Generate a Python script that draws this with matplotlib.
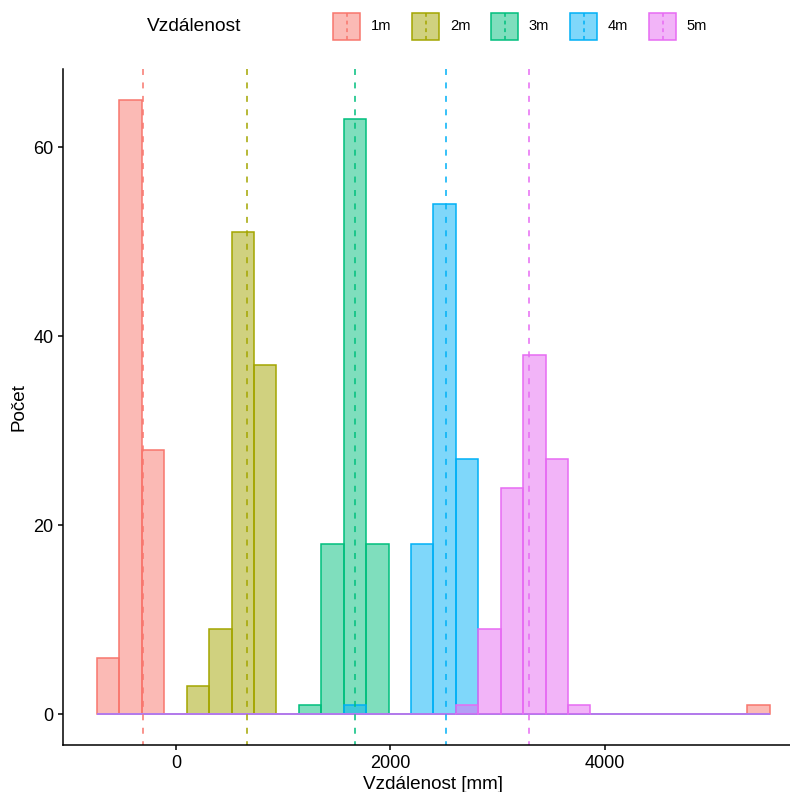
import numpy as np
import matplotlib
matplotlib.use("Agg")
import matplotlib.pyplot as plt
from matplotlib.patches import Rectangle
from matplotlib.lines import Line2D
from matplotlib.colors import to_rgba

plt.rcParams['font.family'] = ['Liberation Sans', 'DejaVu Sans']

# histogram bins (30 bins)
bin_start = -737
bin_width = 209.2
n_bins = 30

groups = ['1m', '2m', '3m', '4m', '5m']
colors = ['#F8766D', '#A3A500', '#00BF7D', '#00B0F6', '#E76BF3']

counts_1m = [6, 65, 28, 0, 0, 0, 0, 0, 0, 0, 0, 0, 0, 0, 0, 0, 0, 0, 0, 0, 0, 0, 0, 0, 0, 0, 0, 0, 0, 1]
counts_2m = [0, 0, 0, 0, 3, 9, 51, 37, 0, 0, 0, 0, 0, 0, 0, 0, 0, 0, 0, 0, 0, 0, 0, 0, 0, 0, 0, 0, 0, 0]
counts_3m = [0, 0, 0, 0, 0, 0, 0, 0, 0, 1, 18, 63, 18, 0, 0, 0, 0, 0, 0, 0, 0, 0, 0, 0, 0, 0, 0, 0, 0, 0]
counts_4m = [0, 0, 0, 0, 0, 0, 0, 0, 0, 0, 0, 1, 0, 0, 18, 54, 27, 0, 0, 0, 0, 0, 0, 0, 0, 0, 0, 0, 0, 0]
counts_5m = [0, 0, 0, 0, 0, 0, 0, 0, 0, 0, 0, 0, 0, 0, 0, 0, 1, 9, 24, 38, 27, 1, 0, 0, 0, 0, 0, 0, 0, 0]
all_counts = [counts_1m, counts_2m, counts_3m, counts_4m, counts_5m]

# group means (dashed lines)
means = [-303, 660, 1667, 2516, 3296]

W, H = 790, 792
fig = plt.figure(figsize=(W / 100, H / 100), dpi=100)

def fx(px):
    return px / W

def fy(py):
    return 1 - py / H

# panel in pixels
left_px, right_px, top_px, bottom_px = 63.3, 803.5, 69.3, 745.2
ax = fig.add_axes([fx(left_px), fy(bottom_px), fx(right_px - left_px), (bottom_px - top_px) / H])

edges = bin_start + bin_width * np.arange(n_bins + 1)
for cnt, col in zip(all_counts, colors):
    ax.bar(edges[:-1], cnt, width=bin_width, align='edge',
           color=to_rgba(col, 0.5), edgecolor=col, linewidth=1.1)

dash = (0, (3.9, 4.9))
for m, col in zip(means, colors):
    ax.plot([m, m], [1, 0], transform=ax.get_xaxis_transform(),
            color=col, linewidth=1.1, linestyle=dash)

rng = edges[-1] - edges[0]
ax.set_xlim(edges[0] - 0.05 * rng, edges[-1] + 0.05 * rng)
ax.set_ylim(-0.05 * 65, 65 * 1.05)
ax.set_xticks([0, 2000, 4000])
ax.set_yticks([0, 20, 40, 60])

for s in ['top', 'right']:
    ax.spines[s].set_visible(False)
for s in ['left', 'bottom']:
    ax.spines[s].set_linewidth(1.1)
    ax.spines[s].set_color('black')
ax.tick_params(length=3.4, width=1.1, color='black', labelsize=13,
               labelcolor='black', pad=3.5)

ax.set_xlabel('Vzdálenost [mm]', fontsize=13.6, labelpad=3)
ax.set_ylabel('Počet', fontsize=13.6, labelpad=4)

# legend on top
fig.text(fx(147), fy(26.5), 'Vzdálenost', fontsize=13.8, va='center', ha='left')
key = 26.7
for i, (g, col) in enumerate(zip(groups, colors)):
    cx = 346.7 + 79 * i
    cy = 26.3
    fig.add_artist(Rectangle((fx(cx - key / 2), fy(cy + key / 2)), key / W, key / H,
                             transform=fig.transFigure, facecolor=to_rgba(col, 0.5),
                             edgecolor=col, linewidth=1.1))
    fig.add_artist(Line2D([fx(cx), fx(cx)], [fy(cy - key / 2), fy(cy + key / 2)],
                          transform=fig.transFigure, color=col, linewidth=1.1,
                          linestyle=(0, (2.5, 2.5))))
    fig.text(fx(cx + key / 2 + 10.7), fy(cy), g, fontsize=10.6, va='center', ha='left')

fig.savefig('out.png', dpi=100)
